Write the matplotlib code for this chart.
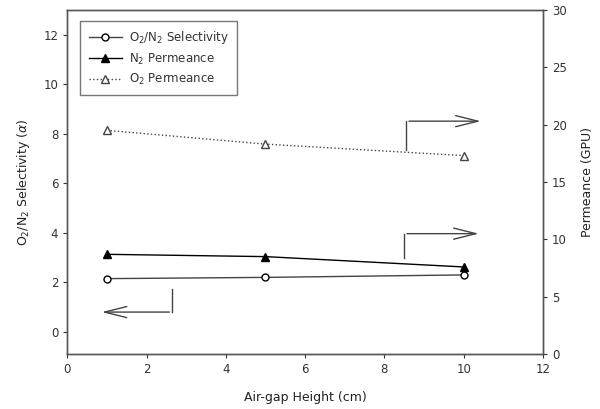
#air-gap height vs selectivity and permeance, two y axes
import matplotlib.pyplot as plt

height = [1, 5, 10]
selectivity = [2.15, 2.2, 2.3]
n2_perm = [8.7, 8.5, 7.6]
o2_perm = [19.5, 18.3, 17.3]

fig = plt.figure( figsize=(6, 4.09), dpi=100 )
ax = fig.add_axes( [0.112, 0.134, 0.793, 0.842] )
ax2 = ax.twinx()

gray = '#444444'
l1, = ax.plot( height, selectivity, '-', color=gray, lw=1, marker='o', ms=5,
               mfc='white', mec='black', label='O$_2$/N$_2$ Selectivity' )
l2, = ax2.plot( height, n2_perm, '-', color='black', lw=1, marker='^', ms=5.5,
                mfc='black', mec='black', label='N$_2$ Permeance' )
l3, = ax2.plot( height, o2_perm, ':', color=gray, lw=1, marker='^', ms=5.5,
                mfc='white', mec=gray, label='O$_2$ Permeance' )

ax.set_xlim( 0, 12 )
ax.set_ylim( -0.9, 13.0 )
ax2.set_ylim( 0, 30 )
ax.set_xticks( range(0, 13, 2) )
ax.set_yticks( range(0, 13, 2) )
ax2.set_yticks( range(0, 31, 5) )

for a in (ax, ax2):
    a.tick_params( direction='out', length=3, width=0.8, labelsize=8.5,
                   labelcolor='#333333', color='#333333' )
    for s in a.spines.values():
        s.set_color( '#555555' )
        s.set_linewidth( 1 )

ax.set_xlabel( 'Air-gap Height (cm)', fontsize=9, color='#222222', labelpad=11 )
ax.set_ylabel( 'O$_2$/N$_2$ Selectivity ($\\alpha$)', fontsize=9, color='#222222', labelpad=8 )
ax2.set_ylabel( 'Permeance (GPU)', fontsize=9, color='#222222', labelpad=10 )

leg = ax.legend( handles=[l1, l2, l3], loc='upper left', fontsize=8.5,
                 fancybox=False, edgecolor='#555555', handlelength=2.8,
                 borderpad=0.7, labelspacing=0.45, handletextpad=0.6,
                 bbox_to_anchor=(0.015, 0.985) )
leg.get_frame().set_linewidth( 1 )
for t in leg.get_texts():
    t.set_color( '#333333' )

# axis indicator arrows
arr = dict( arrowstyle='->,head_length=1.6,head_width=0.4', color=gray, lw=1 )
ax.plot( [2.65, 2.65], [1.75, 0.8], color=gray, lw=1 )
ax.annotate( '', xy=(0.8, 0.8), xytext=(2.65, 0.8), arrowprops=arr )
ax2.plot( [8.55, 8.55], [17.8, 20.3], color=gray, lw=1 )
ax2.annotate( '', xy=(10.5, 20.3), xytext=(8.55, 20.3), arrowprops=arr )
ax2.plot( [8.5, 8.5], [8.4, 10.5], color=gray, lw=1 )
ax2.annotate( '', xy=(10.45, 10.5), xytext=(8.5, 10.5), arrowprops=arr )

fig.savefig( 'out.png' )
